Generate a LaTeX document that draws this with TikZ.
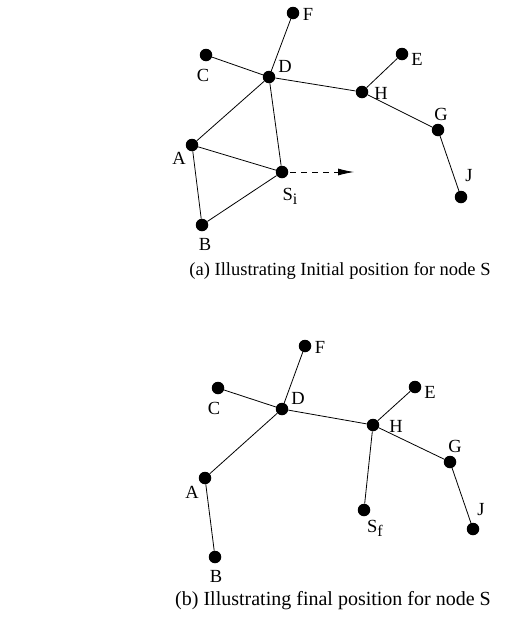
\documentclass[tikz,border=0pt]{standalone}
\usepackage{fontspec}
\setmainfont{Liberation Serif}
\usetikzlibrary{arrows.meta}
\newcommand{\subtxt}[1]{\raisebox{-0.45ex}{\fontsize{16}{18}\selectfont #1}}
\begin{document}
\begin{tikzpicture}[x=1pt,y=-1pt,
  dot/.style={circle,fill=black,inner sep=0pt,minimum size=12.5pt},
  lbl/.style={inner sep=0pt,font=\fontsize{18.5}{20}\selectfont},
  captxt/.style={inner sep=0pt,font=\fontsize{18.5}{20}\selectfont},
  edge/.style={line width=0.8pt}]
\useasboundingbox (0,0) rectangle (508,635);
% ---- (a) ----
\node[dot] (aF) at (293,13) {};
\node[dot] (aC) at (206,55) {};
\node[dot] (aD) at (269,77) {};
\node[dot] (aE) at (402,54) {};
\node[dot] (aH) at (362,92) {};
\node[dot] (aG) at (438,130) {};
\node[dot] (aJ) at (461,197) {};
\node[dot] (aA) at (192,145) {};
\node[dot] (aS) at (282,172) {};
\node[dot] (aB) at (202,225) {};
\coordinate (aT) at (354,172);
\node[lbl] (laF) at (308,14) {F};
\node[lbl] (laC) at (203,75) {C};
\node[lbl] (laD) at (285,66) {D};
\node[lbl] (laE) at (417,59) {E};
\node[lbl] (laH) at (381,93) {H};
\node[lbl] (laG) at (441,114) {G};
\node[lbl] (laJ) at (469,176) {J};
\node[lbl] (laA) at (179,158) {A};
\node[lbl] (laS) at (290,196) {S\subtxt{i}};
\node[lbl] (laB) at (205,244) {B};
\draw[edge] (aC) -- (aD);
\draw[edge] (aF) -- (aD);
\draw[edge] (aD) -- (aH);
\draw[edge] (aH) -- (aE);
\draw[edge] (aH) -- (aG);
\draw[edge] (aG) -- (aJ);
\draw[edge] (aD) -- (aA);
\draw[edge] (aD) -- (aS);
\draw[edge] (aA) -- (aS);
\draw[edge] (aA) -- (aB);
\draw[edge] (aB) -- (aS);
\draw[edge,dash pattern=on 6pt off 5pt,-{Latex[length=16pt,width=7pt]}] (aS.east) ++(2,0) -- (aT);
\node[captxt] (capa) at (340,271) {(a) Illustrating Initial position for node S};
% ---- (b) ----
\node[dot] (bF) at (305,346) {};
\node[dot] (bC) at (218,388) {};
\node[dot] (bD) at (282,409) {};
\node[dot] (bE) at (415,387) {};
\node[dot] (bH) at (373,425) {};
\node[dot] (bG) at (450,462) {};
\node[dot] (bJ) at (473,529) {};
\node[dot] (bS) at (364,510) {};
\node[dot] (bA) at (205,478) {};
\node[dot] (bB) at (215,557) {};
\node[lbl] (lbF) at (320,347) {F};
\node[lbl] (lbC) at (214,408) {C};
\node[lbl] (lbD) at (298,398) {D};
\node[lbl] (lbE) at (430,392) {E};
\node[lbl] (lbH) at (396,426) {H};
\node[lbl] (lbG) at (455,446) {G};
\node[lbl] (lbJ) at (481,510) {J};
\node[lbl] (lbA) at (192,492) {A};
\node[lbl] (lbS) at (375,528) {S\subtxt{f}};
\node[lbl] (lbB) at (216,576) {B};
\draw[edge] (bC) -- (bD);
\draw[edge] (bF) -- (bD);
\draw[edge] (bD) -- (bH);
\draw[edge] (bH) -- (bE);
\draw[edge] (bH) -- (bG);
\draw[edge] (bG) -- (bJ);
\draw[edge] (bD) -- (bA);
\draw[edge] (bA) -- (bB);
\draw[edge] (bH) -- (bS);
\node[captxt,font=\fontsize{20}{22}\selectfont] (capb) at (333,601) {(b) Illustrating final position for node S};
\end{tikzpicture}
\end{document}
